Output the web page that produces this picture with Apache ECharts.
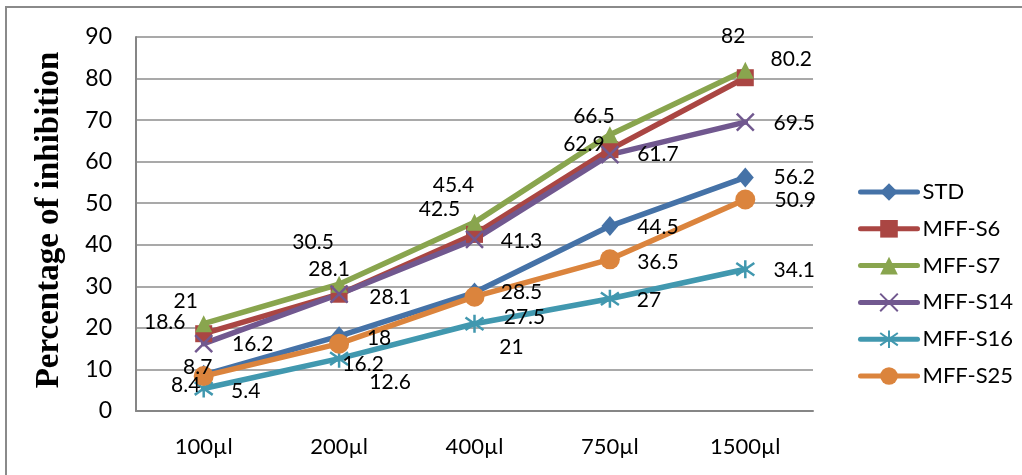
<!DOCTYPE html>
<html>
<head>
<meta charset="utf-8">
<script src="https://cdn.jsdelivr.net/npm/echarts@6/dist/echarts.min.js"></script>
<style>
  html, body { margin: 0; padding: 0; background: #fff; }
  #chart { width: 1022px; height: 475px; }
</style>
</head>
<body>
<div id="chart"></div>
<script>
// Doses on the x axis
const doses = ['100µl', '200µl', '400µl', '750µl', '1500µl'];

// Percentage of inhibition for each sample
const std    = [8.7, 18, 28.5, 44.5, 56.2];
const mffS6  = [18.6, 28.1, 42.5, 62.9, 80.2];
const mffS7  = [21, 30.5, 45.4, 66.5, 82];
const mffS14 = [16.2, 28.1, 41.3, 61.7, 69.5];
const mffS16 = [5.4, 12.6, 21, 27, 34.1];
const mffS25 = [8.4, 16.2, 27.5, 36.5, 50.9];

const yTicks = { min: 0, max: 90, step: 10 };

// Label nudges (px, relative to the point) so the value labels don't collide
const nudges = {
  std:    [[-6, -8], [40, 2], [47, 0], [48, 1], [49, 0]],
  mffS6:  [[-39, -11], [-10, -25], [-35, -25], [-26, -5], [46, -18]],
  mffS7:  [[-18, -22], [-26, -42], [-21, -37], [-16, -18], [-12, -34]],
  mffS14: [[49, 1], [51, 3], [47, 2], [48, 0], [49, 1]],
  mffS16: [[42, 3], [51, 24], [37, 24], [39, 1], [49, 1]],
  mffS25: [[-18, 9], [24, 21], [50, 21], [48, 3], [50, 1]]
};

const FONT = 'Lato';
const crossPath = 'path://M0,0L10,10M10,0L0,10';
const starPath = 'path://M5,0L5,10M0,1.5L10,8.5M10,1.5L0,8.5';

function makeSeries(name, values, shift, color, symbol, size, stroked) {
  return {
    name: name,
    type: 'line',
    data: values.map((v, i) => ({
      value: v,
      label: { offset: shift[i] }
    })),
    symbol: symbol,
    symbolSize: size,
    showAllSymbol: true,
    lineStyle: { color: color, width: 5.5, cap: 'round', join: 'round' },
    itemStyle: stroked
      ? { color: 'rgba(0,0,0,0)', borderColor: color, borderWidth: 2.5 }
      : { color: color, borderWidth: 0 },
    label: {
      show: true,
      position: 'inside',
      color: '#000',
      fontFamily: FONT,
      fontSize: 21
    },
    emphasis: { disabled: true },
    animation: false
  };
}

const chart = echarts.init(document.getElementById('chart'), null, { renderer: 'canvas' });

chart.setOption({
  backgroundColor: '#fff',
  animation: false,
  graphic: [{
    type: 'rect',
    shape: { x: 6, y: 7, width: 1100, height: 500 },
    style: { fill: 'none', stroke: '#8a8a8a', lineWidth: 2 },
    silent: true
  }],
  grid: { left: 136, right: 209, top: 37, bottom: 64 },
  legend: {
    orient: 'vertical',
    left: 853,
    top: 176,
    itemWidth: 57,
    itemHeight: 22,
    itemGap: 14.8,
    lineStyle: { width: 5, cap: 'round' },
    textStyle: { fontFamily: FONT, fontSize: 22, color: '#000' },
    data: ['STD', 'MFF-S6', 'MFF-S7', 'MFF-S14', 'MFF-S16', 'MFF-S25']
  },
  xAxis: {
    type: 'category',
    data: doses,
    boundaryGap: true,
    axisLine: { show: true, lineStyle: { color: '#868686', width: 2 } },
    axisTick: { show: false },
    axisLabel: { color: '#000', fontFamily: FONT, fontSize: 22, margin: 25 },
    splitLine: { show: false }
  },
  yAxis: {
    type: 'value',
    min: yTicks.min,
    max: yTicks.max,
    interval: yTicks.step,
    name: 'Percentage of inhibition',
    nameLocation: 'middle',
    nameGap: 70,
    nameRotate: 90,
    nameTextStyle: {
      fontFamily: 'Liberation Serif',
      fontWeight: 'bold',
      fontSize: 33,
      color: '#000',
      padding: [0, 0, 0, 8]
    },
    axisLine: { show: true, lineStyle: { color: '#868686', width: 2 } },
    axisTick: { show: false },
    axisLabel: { color: '#000', fontFamily: FONT, fontSize: 23, margin: 24 },
    splitLine: { show: true, lineStyle: { color: '#8c8c8c', width: 1.5 } }
  },
  series: [
    makeSeries('STD', std, nudges.std, '#4572A7', 'diamond', [17, 20], false),
    makeSeries('MFF-S6', mffS6, nudges.mffS6, '#AA4643', 'rect', 17, false),
    makeSeries('MFF-S7', mffS7, nudges.mffS7, '#89A54E', 'triangle', 17, false),
    makeSeries('MFF-S14', mffS14, nudges.mffS14, '#71588F', crossPath, 17, true),
    makeSeries('MFF-S16', mffS16, nudges.mffS16, '#4198AF', starPath, 18, true),
    makeSeries('MFF-S25', mffS25, nudges.mffS25, '#DB843D', 'circle', 20, false)
  ]
});
</script>
</body>
</html>
